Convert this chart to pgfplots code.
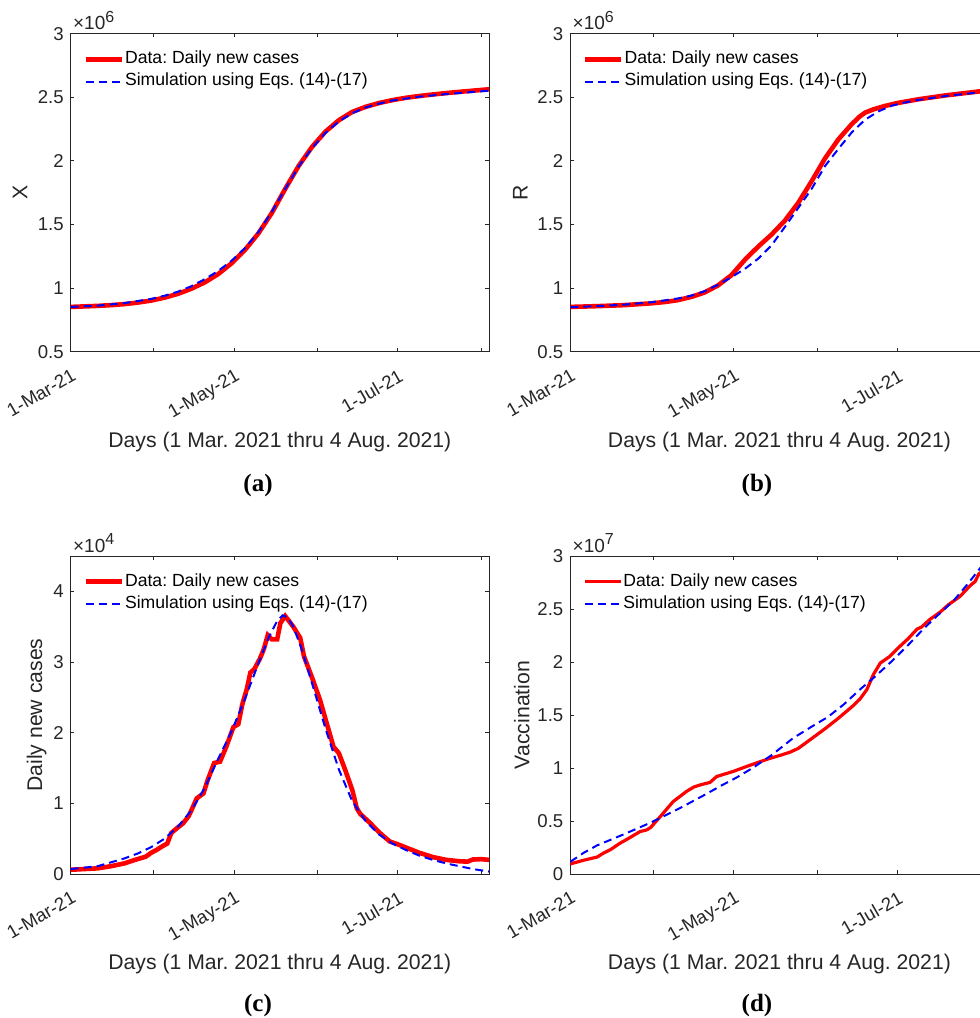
\documentclass[border=0pt]{standalone}
\usepackage{fontspec}
\setmainfont{Liberation Sans}
\newfontfamily\capfont{Liberation Serif}
\usepackage{pgfplots}
\pgfplotsset{compat=1.18}
\frenchspacing

\definecolor{axgray}{rgb}{0.15,0.15,0.15}

\pgfplotsset{
  panel/.style={
    scale only axis, width=209.15pt, height=159pt,
    anchor=south west,
    xmin=0, xmax=156,
    axis line style={axgray, line width=0.4pt},
    every tick/.style={axgray, line width=0.4pt},
    major tick length=1.8pt,
    tick align=inside,
    xtick={0,31,61,92,122,153},
    xticklabels={1-Mar-21,,1-May-21,,1-Jul-21,},
    tick label style={font=\fontsize{9.3}{11}\selectfont, text=axgray},
    /pgf/number format/assume math mode=true,
    x tick label style={yshift=-8pt, rotate=30, anchor=north east, inner sep=0pt},
    y tick label style={anchor=east, inner sep=0pt, xshift=-3.3pt},
    xlabel={Days (1 Mar. 2021 thru 4 Aug. 2021)},
    label style={font=\fontsize{10.6}{12}\selectfont, text=axgray},
    xlabel style={at={([yshift=-45.2pt]axis description cs:0.5,0)}, anchor=center},
    legend style={draw=none, fill=none, at={(axis description cs:0,1)},
      anchor=north west, xshift=6.2pt, yshift=-8.2pt, inner sep=0pt,
      row sep=2pt, font=\fontsize{8.8}{10}\selectfont,
      nodes={inner sep=0.5pt, text height=6.2pt, text depth=1.8pt}},
    legend cell align=left,
    legend image code/.code={\draw[##1] (0pt,0pt) -- (18pt,0pt);},
  },
  scalelab/.style={extra description/.code={
    \node[anchor=base west, inner sep=0pt, font=\fontsize{9.5}{11}\selectfont, text=axgray]
      at ([xshift=1pt, yshift=1.9pt]axis description cs:0,1)
      {\texttimes10\raisebox{3.6pt}{\fontsize{8}{9}\selectfont #1}};}},
  datastyle/.style={red, line width=2.3pt},
  simstyle/.style={blue, line width=1pt, dash pattern=on 4pt off 2.5pt},
}

\begin{document}
\begin{tikzpicture}

% (a) X
\begin{axis}[panel, at={(35.35pt,333.15pt)}, scalelab=6,
  ymin=0.5, ymax=3, ytick={0.5,1,1.5,2,2.5,3},
  ylabel={X}, ylabel style={at={([xshift=-25.3pt]axis description cs:0,0.5)}, anchor=center}]
\addplot[datastyle] coordinates {
(0,0.852) (5,0.856) (10,0.860) (15,0.866) (20,0.874) (25,0.886) (30,0.902)
(35,0.925) (40,0.955) (45,0.995) (50,1.045) (55,1.110) (60,1.195) (65,1.300)
(70,1.430) (75,1.590) (80,1.780) (85,1.960) (90,2.110) (95,2.230) (100,2.320)
(105,2.385) (110,2.425) (115,2.455) (120,2.478) (125,2.496) (130,2.510)
(135,2.522) (140,2.533) (145,2.543) (150,2.552) (156,2.563)};
\addlegendentry{Data: Daily new cases}
\addplot[simstyle] coordinates {
(0,0.852) (10,0.862) (20,0.882) (30,0.915) (35,0.940) (40,0.972) (45,1.015)
(50,1.070) (55,1.135) (60,1.215) (65,1.315) (70,1.440) (75,1.600) (80,1.780)
(85,1.955) (90,2.100) (95,2.220) (100,2.310) (105,2.375) (110,2.420)
(115,2.450) (120,2.475) (130,2.505) (140,2.525) (150,2.542) (156,2.552)};
\addlegendentry{Simulation using Eqs. (14)-(17)}
\end{axis}

% (b) R
\begin{axis}[panel, at={(285.15pt,333.15pt)}, scalelab=6,
  ymin=0.5, ymax=3, ytick={0.5,1,1.5,2,2.5,3},
  ylabel={R}, ylabel style={at={([xshift=-25pt]axis description cs:0,0.5)}, anchor=center}]
\addplot[datastyle] coordinates {
(0,0.852) (10,0.858) (20,0.866) (30,0.880) (35,0.890) (40,0.905) (45,0.930)
(50,0.965) (55,1.020) (60,1.100) (65,1.220) (70,1.325) (75,1.420) (80,1.530)
(85,1.670) (90,1.840) (95,2.020) (100,2.170) (105,2.290) (108,2.350)
(110,2.380) (113,2.405) (117,2.430) (122,2.455) (130,2.485) (140,2.515)
(150,2.540) (156,2.555)};
\addlegendentry{Data: Daily new cases}
\addplot[simstyle] coordinates {
(0,0.850) (10,0.858) (20,0.870) (30,0.888) (40,0.918) (45,0.940) (50,0.975)
(55,1.025) (60,1.085) (65,1.150) (70,1.230) (75,1.335) (80,1.480) (85,1.630)
(90,1.780) (95,1.960) (100,2.095) (105,2.225) (110,2.325) (115,2.390)
(120,2.435) (125,2.460) (130,2.480) (140,2.510) (150,2.533) (156,2.545)};
\addlegendentry{Simulation using Eqs. (14)-(17)}
\end{axis}

% (c) daily new cases
\begin{axis}[panel, at={(35.35pt,72pt)}, scalelab=4,
  ymin=0, ymax=4.5, ytick={0,1,2,3,4},
  ylabel={Daily new cases}, ylabel style={at={([xshift=-17pt]axis description cs:0,0.5)}, anchor=center}]
\addplot[datastyle] coordinates {
(0,0.06) (5,0.07) (10,0.08) (15,0.11) (20,0.15) (24,0.20) (28,0.245)
(30,0.30) (32,0.34) (34.5,0.40) (36,0.43) (37.5,0.58) (40,0.66) (42,0.72)
(44,0.82) (45,0.90) (47,1.07) (49.5,1.14) (51,1.32) (53.5,1.57) (55.7,1.59)
(58,1.80) (60.7,2.08) (62.5,2.12) (64,2.40) (65.7,2.62) (67,2.85) (68.5,2.90)
(70.6,3.05) (72,3.18) (73.5,3.38) (75,3.32) (77,3.32) (78.2,3.55) (80,3.65)
(83,3.50) (85.6,3.34) (87,3.08) (90,2.78) (93,2.46) (95.5,2.13) (98,1.80)
(100,1.71) (102.4,1.47) (105,1.19) (106.7,0.93) (108,0.85) (111.7,0.72)
(115,0.59) (119,0.46) (122,0.42) (126,0.36) (130,0.30) (135,0.24) (140,0.20)
(145,0.18) (148,0.175) (150,0.205) (153,0.21) (156,0.20)};
\addlegendentry{Data: Daily new cases}
\addplot[simstyle] coordinates {
(0,0.07) (10,0.11) (20,0.22) (25,0.29) (30,0.38) (35,0.50) (40,0.67)
(45,0.90) (50,1.22) (55,1.63) (60,2.02) (65,2.48) (70,2.98) (74,3.36)
(77,3.58) (79,3.66) (81,3.63) (83,3.50) (86,3.20) (90,2.70) (95,2.06)
(100,1.48) (105,1.03) (110,0.75) (115,0.56) (120,0.43) (125,0.34)
(130,0.26) (135,0.20) (140,0.15) (145,0.11) (150,0.07) (156,0.035)};
\addlegendentry{Simulation using Eqs. (14)-(17)}
\end{axis}

% (d) vaccination
\begin{axis}[panel, at={(285.15pt,72pt)}, scalelab=7,
  ymin=0, ymax=3, ytick={0,0.5,1,1.5,2,2.5,3},
  datastyle/.style={red, line width=1.6pt},
  ylabel={Vaccination}, ylabel style={at={([xshift=-24.3pt]axis description cs:0,0.5)}, anchor=center}]
\addplot[datastyle] coordinates {
(0,0.095) (5,0.13) (10,0.16) (12.3,0.196) (15,0.23) (18.5,0.29) (22,0.34)
(26,0.40) (28.5,0.416) (30,0.44) (33.5,0.54) (38.4,0.684) (43.4,0.78)
(46,0.82) (48.4,0.84) (52.1,0.864) (54.6,0.92) (60.8,0.968) (65.8,1.015)
(70.8,1.06) (75,1.095) (79,1.125) (82,1.15) (85,1.185) (88,1.24) (93.2,1.337)
(96,1.39) (100,1.47) (105.6,1.59) (108,1.65) (110.6,1.74) (113,1.88)
(115.6,1.99) (119,2.05) (123,2.15) (126,2.22) (129.3,2.31) (131,2.33)
(134,2.40) (137.9,2.47) (141,2.54) (145.4,2.62) (149.1,2.72) (151,2.76)
(152.3,2.83) (154,2.86) (156,2.92)};
\addlegendentry{Data: Daily new cases}
\addplot[simstyle] coordinates {
(0,0.115) (5,0.20) (10,0.27) (20,0.375) (30,0.485) (40,0.61) (50,0.745)
(56,0.83) (62,0.91) (68,1.00) (75,1.12) (83,1.28) (90,1.39) (96,1.48)
(102,1.60) (108,1.74) (114,1.87) (120,2.01) (126,2.16) (132,2.32)
(137,2.44) (143,2.58) (148,2.73) (153,2.89) (156,2.98)};
\addlegendentry{Simulation using Eqs. (14)-(17)}
\end{axis}

\begin{scope}[every node/.style={font=\capfont\bfseries\fontsize{12.5}{14}\selectfont}]
\node at (129pt,266.5pt) {(a)};
\node at (378.5pt,266.5pt) {(b)};
\node at (129pt,6.5pt) {(c)};
\node at (378.5pt,6.5pt) {(d)};
\end{scope}

\pgfresetboundingbox
\useasboundingbox (0pt,0pt) rectangle (490pt,509pt);
\end{tikzpicture}
\end{document}
